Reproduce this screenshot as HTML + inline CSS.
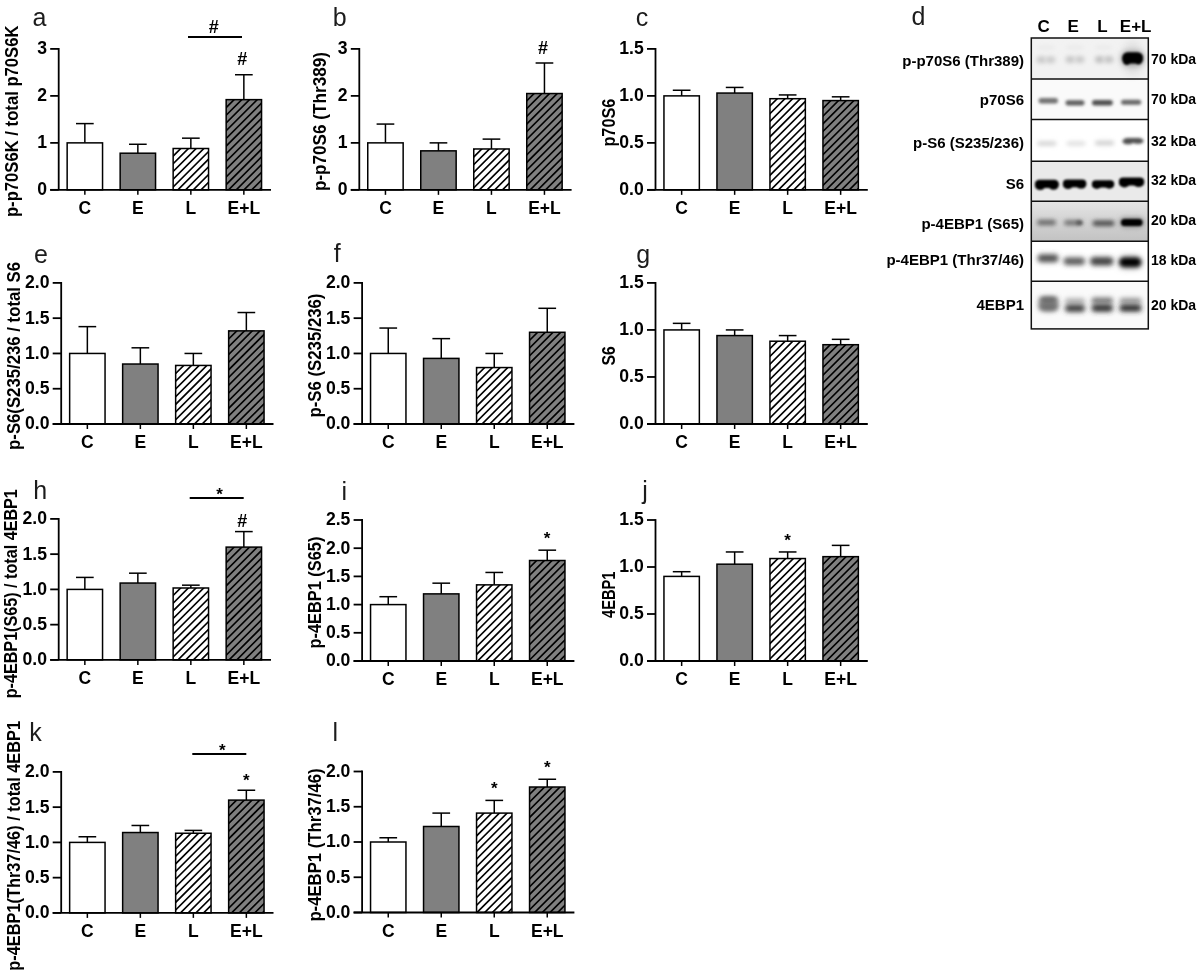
<!DOCTYPE html>
<html><head><meta charset="utf-8"><style>
html,body{margin:0;padding:0;background:#fff;}
body{width:1200px;height:974px;position:relative;overflow:hidden;font-family:"Liberation Sans",sans-serif;}
</style></head><body>
<svg width="1200" height="974" viewBox="0 0 1200 974" style="position:absolute;left:0;top:0;will-change:transform">
<defs>
<linearGradient id="g5" x1="0" y1="0" x2="0" y2="1"><stop offset="0" stop-color="#e4e4e4"/><stop offset="0.5" stop-color="#d3d3d3"/><stop offset="1" stop-color="#c2c2c2"/></linearGradient>
</defs>
<text x="32.50" y="26.10" font-family="Liberation Sans, sans-serif" font-size="25" fill="#1c1c1c">a</text>
<line x1="84.85" y1="142.87" x2="84.85" y2="123.60" stroke="#000" stroke-width="1.5"/>
<line x1="76.00" y1="123.60" x2="93.70" y2="123.60" stroke="#000" stroke-width="1.5"/>
<rect x="67.15" y="142.87" width="35.4" height="46.98" fill="#ffffff" stroke="#000" stroke-width="1.5"/>
<line x1="84.85" y1="189.85" x2="84.85" y2="194.85" stroke="#000" stroke-width="1.5"/>
<text x="84.85" y="214.15" font-family="Liberation Sans, sans-serif" font-size="17.5" font-weight="bold" text-anchor="middle">C</text>
<line x1="137.85" y1="153.20" x2="137.85" y2="144.28" stroke="#000" stroke-width="1.5"/>
<line x1="129.00" y1="144.28" x2="146.70" y2="144.28" stroke="#000" stroke-width="1.5"/>
<rect x="120.15" y="153.20" width="35.4" height="36.65" fill="#808080" stroke="#000" stroke-width="1.5"/>
<line x1="137.85" y1="189.85" x2="137.85" y2="194.85" stroke="#000" stroke-width="1.5"/>
<text x="137.85" y="214.15" font-family="Liberation Sans, sans-serif" font-size="17.5" font-weight="bold" text-anchor="middle">E</text>
<line x1="190.85" y1="148.50" x2="190.85" y2="138.17" stroke="#000" stroke-width="1.5"/>
<line x1="182.00" y1="138.17" x2="199.70" y2="138.17" stroke="#000" stroke-width="1.5"/>
<clipPath id="cp1"><rect x="173.15" y="148.50" width="35.4" height="41.35"/></clipPath>
<rect x="173.15" y="148.50" width="35.4" height="41.35" fill="#fff"/>
<path clip-path="url(#cp1)" d="M171.15,142.70L210.55,103.30M171.15,150.40L210.55,111.00M171.15,158.10L210.55,118.70M171.15,165.80L210.55,126.40M171.15,173.50L210.55,134.10M171.15,181.20L210.55,141.80M171.15,188.90L210.55,149.50M171.15,196.60L210.55,157.20M171.15,204.30L210.55,164.90M171.15,212.00L210.55,172.60M171.15,219.70L210.55,180.30M171.15,227.40L210.55,188.00M171.15,235.10L210.55,195.70" stroke="#000" stroke-width="1.65" fill="none"/>
<rect x="173.15" y="148.50" width="35.4" height="41.35" fill="none" stroke="#000" stroke-width="1.5"/>
<line x1="190.85" y1="189.85" x2="190.85" y2="194.85" stroke="#000" stroke-width="1.5"/>
<text x="190.85" y="214.15" font-family="Liberation Sans, sans-serif" font-size="17.5" font-weight="bold" text-anchor="middle">L</text>
<line x1="243.85" y1="99.64" x2="243.85" y2="74.74" stroke="#000" stroke-width="1.5"/>
<line x1="235.00" y1="74.74" x2="252.70" y2="74.74" stroke="#000" stroke-width="1.5"/>
<clipPath id="cp2"><rect x="226.15" y="99.64" width="35.4" height="90.21"/></clipPath>
<rect x="226.15" y="99.64" width="35.4" height="90.21" fill="#808080"/>
<path clip-path="url(#cp2)" d="M224.15,86.50L263.55,47.10M224.15,94.20L263.55,54.80M224.15,101.90L263.55,62.50M224.15,109.60L263.55,70.20M224.15,117.30L263.55,77.90M224.15,125.00L263.55,85.60M224.15,132.70L263.55,93.30M224.15,140.40L263.55,101.00M224.15,148.10L263.55,108.70M224.15,155.80L263.55,116.40M224.15,163.50L263.55,124.10M224.15,171.20L263.55,131.80M224.15,178.90L263.55,139.50M224.15,186.60L263.55,147.20M224.15,194.30L263.55,154.90M224.15,202.00L263.55,162.60M224.15,209.70L263.55,170.30M224.15,217.40L263.55,178.00M224.15,225.10L263.55,185.70M224.15,232.80L263.55,193.40M224.15,240.50L263.55,201.10" stroke="#000" stroke-width="1.65" fill="none"/>
<rect x="226.15" y="99.64" width="35.4" height="90.21" fill="none" stroke="#000" stroke-width="1.5"/>
<line x1="243.85" y1="189.85" x2="243.85" y2="194.85" stroke="#000" stroke-width="1.5"/>
<text x="243.85" y="214.15" font-family="Liberation Sans, sans-serif" font-size="17.5" font-weight="bold" text-anchor="middle">E+L</text>
<line x1="58.70" y1="48.00" x2="58.70" y2="189.85" stroke="#000" stroke-width="1.8"/>
<line x1="50.20" y1="189.85" x2="271.00" y2="189.85" stroke="#000" stroke-width="1.8"/>
<line x1="50.20" y1="189.85" x2="58.70" y2="189.85" stroke="#000" stroke-width="1.8"/>
<text x="47.00" y="195.25" font-family="Liberation Sans, sans-serif" font-size="17.6" font-weight="bold" text-anchor="end">0</text>
<line x1="50.20" y1="142.87" x2="58.70" y2="142.87" stroke="#000" stroke-width="1.8"/>
<text x="47.00" y="148.27" font-family="Liberation Sans, sans-serif" font-size="17.6" font-weight="bold" text-anchor="end">1</text>
<line x1="50.20" y1="95.88" x2="58.70" y2="95.88" stroke="#000" stroke-width="1.8"/>
<text x="47.00" y="101.28" font-family="Liberation Sans, sans-serif" font-size="17.6" font-weight="bold" text-anchor="end">2</text>
<line x1="50.20" y1="48.90" x2="58.70" y2="48.90" stroke="#000" stroke-width="1.8"/>
<text x="47.00" y="54.30" font-family="Liberation Sans, sans-serif" font-size="17.6" font-weight="bold" text-anchor="end">3</text>
<text transform="translate(17.50,217.09) rotate(-90)" font-family="Liberation Sans, sans-serif" font-size="17.8" font-weight="bold" textLength="191.59" lengthAdjust="spacingAndGlyphs">p-p70S6K / total p70S6K</text>
<line x1="188" y1="37" x2="242" y2="37" stroke="#000" stroke-width="1.8"/>
<text x="213.85" y="32.55" font-family="Liberation Sans, sans-serif" font-size="18" font-weight="bold" text-anchor="middle">#</text>
<text x="242.30" y="65.20" font-family="Liberation Sans, sans-serif" font-size="18" font-weight="bold" text-anchor="middle">#</text>
<text x="332.85" y="25.75" font-family="Liberation Sans, sans-serif" font-size="25" fill="#1c1c1c">b</text>
<line x1="385.45" y1="142.87" x2="385.45" y2="124.07" stroke="#000" stroke-width="1.5"/>
<line x1="376.60" y1="124.07" x2="394.30" y2="124.07" stroke="#000" stroke-width="1.5"/>
<rect x="367.75" y="142.87" width="35.4" height="46.98" fill="#ffffff" stroke="#000" stroke-width="1.5"/>
<line x1="385.45" y1="189.85" x2="385.45" y2="194.85" stroke="#000" stroke-width="1.5"/>
<text x="385.45" y="214.15" font-family="Liberation Sans, sans-serif" font-size="17.5" font-weight="bold" text-anchor="middle">C</text>
<line x1="438.45" y1="150.85" x2="438.45" y2="142.87" stroke="#000" stroke-width="1.5"/>
<line x1="429.60" y1="142.87" x2="447.30" y2="142.87" stroke="#000" stroke-width="1.5"/>
<rect x="420.75" y="150.85" width="35.4" height="39.00" fill="#808080" stroke="#000" stroke-width="1.5"/>
<line x1="438.45" y1="189.85" x2="438.45" y2="194.85" stroke="#000" stroke-width="1.5"/>
<text x="438.45" y="214.15" font-family="Liberation Sans, sans-serif" font-size="17.5" font-weight="bold" text-anchor="middle">E</text>
<line x1="491.45" y1="148.97" x2="491.45" y2="139.11" stroke="#000" stroke-width="1.5"/>
<line x1="482.60" y1="139.11" x2="500.30" y2="139.11" stroke="#000" stroke-width="1.5"/>
<clipPath id="cp3"><rect x="473.75" y="148.97" width="35.4" height="40.88"/></clipPath>
<rect x="473.75" y="148.97" width="35.4" height="40.88" fill="#fff"/>
<path clip-path="url(#cp3)" d="M471.75,135.90L511.15,96.50M471.75,143.60L511.15,104.20M471.75,151.30L511.15,111.90M471.75,159.00L511.15,119.60M471.75,166.70L511.15,127.30M471.75,174.40L511.15,135.00M471.75,182.10L511.15,142.70M471.75,189.80L511.15,150.40M471.75,197.50L511.15,158.10M471.75,205.20L511.15,165.80M471.75,212.90L511.15,173.50M471.75,220.60L511.15,181.20M471.75,228.30L511.15,188.90M471.75,236.00L511.15,196.60" stroke="#000" stroke-width="1.65" fill="none"/>
<rect x="473.75" y="148.97" width="35.4" height="40.88" fill="none" stroke="#000" stroke-width="1.5"/>
<line x1="491.45" y1="189.85" x2="491.45" y2="194.85" stroke="#000" stroke-width="1.5"/>
<text x="491.45" y="214.15" font-family="Liberation Sans, sans-serif" font-size="17.5" font-weight="bold" text-anchor="middle">L</text>
<line x1="544.45" y1="93.53" x2="544.45" y2="63.00" stroke="#000" stroke-width="1.5"/>
<line x1="535.60" y1="63.00" x2="553.30" y2="63.00" stroke="#000" stroke-width="1.5"/>
<clipPath id="cp4"><rect x="526.75" y="93.53" width="35.4" height="96.32"/></clipPath>
<rect x="526.75" y="93.53" width="35.4" height="96.32" fill="#808080"/>
<path clip-path="url(#cp4)" d="M524.75,87.50L564.15,48.10M524.75,95.20L564.15,55.80M524.75,102.90L564.15,63.50M524.75,110.60L564.15,71.20M524.75,118.30L564.15,78.90M524.75,126.00L564.15,86.60M524.75,133.70L564.15,94.30M524.75,141.40L564.15,102.00M524.75,149.10L564.15,109.70M524.75,156.80L564.15,117.40M524.75,164.50L564.15,125.10M524.75,172.20L564.15,132.80M524.75,179.90L564.15,140.50M524.75,187.60L564.15,148.20M524.75,195.30L564.15,155.90M524.75,203.00L564.15,163.60M524.75,210.70L564.15,171.30M524.75,218.40L564.15,179.00M524.75,226.10L564.15,186.70M524.75,233.80L564.15,194.40M524.75,241.50L564.15,202.10" stroke="#000" stroke-width="1.65" fill="none"/>
<rect x="526.75" y="93.53" width="35.4" height="96.32" fill="none" stroke="#000" stroke-width="1.5"/>
<line x1="544.45" y1="189.85" x2="544.45" y2="194.85" stroke="#000" stroke-width="1.5"/>
<text x="544.45" y="214.15" font-family="Liberation Sans, sans-serif" font-size="17.5" font-weight="bold" text-anchor="middle">E+L</text>
<line x1="359.30" y1="48.00" x2="359.30" y2="189.85" stroke="#000" stroke-width="1.8"/>
<line x1="350.80" y1="189.85" x2="571.60" y2="189.85" stroke="#000" stroke-width="1.8"/>
<line x1="350.80" y1="189.85" x2="359.30" y2="189.85" stroke="#000" stroke-width="1.8"/>
<text x="347.60" y="195.25" font-family="Liberation Sans, sans-serif" font-size="17.6" font-weight="bold" text-anchor="end">0</text>
<line x1="350.80" y1="142.87" x2="359.30" y2="142.87" stroke="#000" stroke-width="1.8"/>
<text x="347.60" y="148.27" font-family="Liberation Sans, sans-serif" font-size="17.6" font-weight="bold" text-anchor="end">1</text>
<line x1="350.80" y1="95.88" x2="359.30" y2="95.88" stroke="#000" stroke-width="1.8"/>
<text x="347.60" y="101.28" font-family="Liberation Sans, sans-serif" font-size="17.6" font-weight="bold" text-anchor="end">2</text>
<line x1="350.80" y1="48.90" x2="359.30" y2="48.90" stroke="#000" stroke-width="1.8"/>
<text x="347.60" y="54.30" font-family="Liberation Sans, sans-serif" font-size="17.6" font-weight="bold" text-anchor="end">3</text>
<text transform="translate(325.80,191.08) rotate(-90)" font-family="Liberation Sans, sans-serif" font-size="17.8" font-weight="bold" textLength="139.01" lengthAdjust="spacingAndGlyphs">p-p70S6 (Thr389)</text>
<text x="543.10" y="54.30" font-family="Liberation Sans, sans-serif" font-size="18" font-weight="bold" text-anchor="middle">#</text>
<text x="635.70" y="25.60" font-family="Liberation Sans, sans-serif" font-size="25" fill="#1c1c1c">c</text>
<line x1="681.65" y1="95.88" x2="681.65" y2="90.25" stroke="#000" stroke-width="1.5"/>
<line x1="672.80" y1="90.25" x2="690.50" y2="90.25" stroke="#000" stroke-width="1.5"/>
<rect x="663.95" y="95.88" width="35.4" height="93.97" fill="#ffffff" stroke="#000" stroke-width="1.5"/>
<line x1="681.65" y1="189.85" x2="681.65" y2="194.85" stroke="#000" stroke-width="1.5"/>
<text x="681.65" y="214.15" font-family="Liberation Sans, sans-serif" font-size="17.5" font-weight="bold" text-anchor="middle">C</text>
<line x1="734.65" y1="93.06" x2="734.65" y2="87.43" stroke="#000" stroke-width="1.5"/>
<line x1="725.80" y1="87.43" x2="743.50" y2="87.43" stroke="#000" stroke-width="1.5"/>
<rect x="716.95" y="93.06" width="35.4" height="96.79" fill="#808080" stroke="#000" stroke-width="1.5"/>
<line x1="734.65" y1="189.85" x2="734.65" y2="194.85" stroke="#000" stroke-width="1.5"/>
<text x="734.65" y="214.15" font-family="Liberation Sans, sans-serif" font-size="17.5" font-weight="bold" text-anchor="middle">E</text>
<line x1="787.65" y1="98.70" x2="787.65" y2="94.94" stroke="#000" stroke-width="1.5"/>
<line x1="778.80" y1="94.94" x2="796.50" y2="94.94" stroke="#000" stroke-width="1.5"/>
<clipPath id="cp5"><rect x="769.95" y="98.70" width="35.4" height="91.15"/></clipPath>
<rect x="769.95" y="98.70" width="35.4" height="91.15" fill="#fff"/>
<path clip-path="url(#cp5)" d="M767.95,92.60L807.35,53.20M767.95,100.30L807.35,60.90M767.95,108.00L807.35,68.60M767.95,115.70L807.35,76.30M767.95,123.40L807.35,84.00M767.95,131.10L807.35,91.70M767.95,138.80L807.35,99.40M767.95,146.50L807.35,107.10M767.95,154.20L807.35,114.80M767.95,161.90L807.35,122.50M767.95,169.60L807.35,130.20M767.95,177.30L807.35,137.90M767.95,185.00L807.35,145.60M767.95,192.70L807.35,153.30M767.95,200.40L807.35,161.00M767.95,208.10L807.35,168.70M767.95,215.80L807.35,176.40M767.95,223.50L807.35,184.10M767.95,231.20L807.35,191.80M767.95,238.90L807.35,199.50" stroke="#000" stroke-width="1.65" fill="none"/>
<rect x="769.95" y="98.70" width="35.4" height="91.15" fill="none" stroke="#000" stroke-width="1.5"/>
<line x1="787.65" y1="189.85" x2="787.65" y2="194.85" stroke="#000" stroke-width="1.5"/>
<text x="787.65" y="214.15" font-family="Liberation Sans, sans-serif" font-size="17.5" font-weight="bold" text-anchor="middle">L</text>
<line x1="840.65" y1="100.58" x2="840.65" y2="96.82" stroke="#000" stroke-width="1.5"/>
<line x1="831.80" y1="96.82" x2="849.50" y2="96.82" stroke="#000" stroke-width="1.5"/>
<clipPath id="cp6"><rect x="822.95" y="100.58" width="35.4" height="89.27"/></clipPath>
<rect x="822.95" y="100.58" width="35.4" height="89.27" fill="#808080"/>
<path clip-path="url(#cp6)" d="M820.95,87.30L860.35,47.90M820.95,95.00L860.35,55.60M820.95,102.70L860.35,63.30M820.95,110.40L860.35,71.00M820.95,118.10L860.35,78.70M820.95,125.80L860.35,86.40M820.95,133.50L860.35,94.10M820.95,141.20L860.35,101.80M820.95,148.90L860.35,109.50M820.95,156.60L860.35,117.20M820.95,164.30L860.35,124.90M820.95,172.00L860.35,132.60M820.95,179.70L860.35,140.30M820.95,187.40L860.35,148.00M820.95,195.10L860.35,155.70M820.95,202.80L860.35,163.40M820.95,210.50L860.35,171.10M820.95,218.20L860.35,178.80M820.95,225.90L860.35,186.50M820.95,233.60L860.35,194.20M820.95,241.30L860.35,201.90" stroke="#000" stroke-width="1.65" fill="none"/>
<rect x="822.95" y="100.58" width="35.4" height="89.27" fill="none" stroke="#000" stroke-width="1.5"/>
<line x1="840.65" y1="189.85" x2="840.65" y2="194.85" stroke="#000" stroke-width="1.5"/>
<text x="840.65" y="214.15" font-family="Liberation Sans, sans-serif" font-size="17.5" font-weight="bold" text-anchor="middle">E+L</text>
<line x1="655.50" y1="48.00" x2="655.50" y2="189.85" stroke="#000" stroke-width="1.8"/>
<line x1="647.00" y1="189.85" x2="867.80" y2="189.85" stroke="#000" stroke-width="1.8"/>
<line x1="647.00" y1="189.85" x2="655.50" y2="189.85" stroke="#000" stroke-width="1.8"/>
<text x="643.80" y="195.25" font-family="Liberation Sans, sans-serif" font-size="17.6" font-weight="bold" text-anchor="end">0.0</text>
<line x1="647.00" y1="142.87" x2="655.50" y2="142.87" stroke="#000" stroke-width="1.8"/>
<text x="643.80" y="148.27" font-family="Liberation Sans, sans-serif" font-size="17.6" font-weight="bold" text-anchor="end">0.5</text>
<line x1="647.00" y1="95.88" x2="655.50" y2="95.88" stroke="#000" stroke-width="1.8"/>
<text x="643.80" y="101.28" font-family="Liberation Sans, sans-serif" font-size="17.6" font-weight="bold" text-anchor="end">1.0</text>
<line x1="647.00" y1="48.90" x2="655.50" y2="48.90" stroke="#000" stroke-width="1.8"/>
<text x="643.80" y="54.30" font-family="Liberation Sans, sans-serif" font-size="17.6" font-weight="bold" text-anchor="end">1.5</text>
<text transform="translate(614.70,146.56) rotate(-90)" font-family="Liberation Sans, sans-serif" font-size="17.8" font-weight="bold" textLength="47.86" lengthAdjust="spacingAndGlyphs">p70S6</text>
<text x="34.00" y="262.62" font-family="Liberation Sans, sans-serif" font-size="25" fill="#1c1c1c">e</text>
<line x1="87.35" y1="353.45" x2="87.35" y2="326.64" stroke="#000" stroke-width="1.5"/>
<line x1="78.50" y1="326.64" x2="96.20" y2="326.64" stroke="#000" stroke-width="1.5"/>
<rect x="69.65" y="353.45" width="35.4" height="70.55" fill="#ffffff" stroke="#000" stroke-width="1.5"/>
<line x1="87.35" y1="424.00" x2="87.35" y2="429.00" stroke="#000" stroke-width="1.5"/>
<text x="87.35" y="448.30" font-family="Liberation Sans, sans-serif" font-size="17.5" font-weight="bold" text-anchor="middle">C</text>
<line x1="140.35" y1="364.03" x2="140.35" y2="347.81" stroke="#000" stroke-width="1.5"/>
<line x1="131.50" y1="347.81" x2="149.20" y2="347.81" stroke="#000" stroke-width="1.5"/>
<rect x="122.65" y="364.03" width="35.4" height="59.97" fill="#808080" stroke="#000" stroke-width="1.5"/>
<line x1="140.35" y1="424.00" x2="140.35" y2="429.00" stroke="#000" stroke-width="1.5"/>
<text x="140.35" y="448.30" font-family="Liberation Sans, sans-serif" font-size="17.5" font-weight="bold" text-anchor="middle">E</text>
<line x1="193.35" y1="365.44" x2="193.35" y2="353.45" stroke="#000" stroke-width="1.5"/>
<line x1="184.50" y1="353.45" x2="202.20" y2="353.45" stroke="#000" stroke-width="1.5"/>
<clipPath id="cp7"><rect x="175.65" y="365.44" width="35.4" height="58.56"/></clipPath>
<rect x="175.65" y="365.44" width="35.4" height="58.56" fill="#fff"/>
<path clip-path="url(#cp7)" d="M173.65,352.45L213.05,313.05M173.65,360.15L213.05,320.75M173.65,367.85L213.05,328.45M173.65,375.55L213.05,336.15M173.65,383.25L213.05,343.85M173.65,390.95L213.05,351.55M173.65,398.65L213.05,359.25M173.65,406.35L213.05,366.95M173.65,414.05L213.05,374.65M173.65,421.75L213.05,382.35M173.65,429.45L213.05,390.05M173.65,437.15L213.05,397.75M173.65,444.85L213.05,405.45M173.65,452.55L213.05,413.15M173.65,460.25L213.05,420.85M173.65,467.95L213.05,428.55M173.65,475.65L213.05,436.25" stroke="#000" stroke-width="1.65" fill="none"/>
<rect x="175.65" y="365.44" width="35.4" height="58.56" fill="none" stroke="#000" stroke-width="1.5"/>
<line x1="193.35" y1="424.00" x2="193.35" y2="429.00" stroke="#000" stroke-width="1.5"/>
<text x="193.35" y="448.30" font-family="Liberation Sans, sans-serif" font-size="17.5" font-weight="bold" text-anchor="middle">L</text>
<line x1="246.35" y1="330.87" x2="246.35" y2="312.53" stroke="#000" stroke-width="1.5"/>
<line x1="237.50" y1="312.53" x2="255.20" y2="312.53" stroke="#000" stroke-width="1.5"/>
<clipPath id="cp8"><rect x="228.65" y="330.87" width="35.4" height="93.13"/></clipPath>
<rect x="228.65" y="330.87" width="35.4" height="93.13" fill="#808080"/>
<path clip-path="url(#cp8)" d="M226.65,317.95L266.05,278.55M226.65,325.65L266.05,286.25M226.65,333.35L266.05,293.95M226.65,341.05L266.05,301.65M226.65,348.75L266.05,309.35M226.65,356.45L266.05,317.05M226.65,364.15L266.05,324.75M226.65,371.85L266.05,332.45M226.65,379.55L266.05,340.15M226.65,387.25L266.05,347.85M226.65,394.95L266.05,355.55M226.65,402.65L266.05,363.25M226.65,410.35L266.05,370.95M226.65,418.05L266.05,378.65M226.65,425.75L266.05,386.35M226.65,433.45L266.05,394.05M226.65,441.15L266.05,401.75M226.65,448.85L266.05,409.45M226.65,456.55L266.05,417.15M226.65,464.25L266.05,424.85M226.65,471.95L266.05,432.55" stroke="#000" stroke-width="1.65" fill="none"/>
<rect x="228.65" y="330.87" width="35.4" height="93.13" fill="none" stroke="#000" stroke-width="1.5"/>
<line x1="246.35" y1="424.00" x2="246.35" y2="429.00" stroke="#000" stroke-width="1.5"/>
<text x="246.35" y="448.30" font-family="Liberation Sans, sans-serif" font-size="17.5" font-weight="bold" text-anchor="middle">E+L</text>
<line x1="61.20" y1="282.00" x2="61.20" y2="424.00" stroke="#000" stroke-width="1.8"/>
<line x1="52.70" y1="424.00" x2="273.50" y2="424.00" stroke="#000" stroke-width="1.8"/>
<line x1="52.70" y1="424.00" x2="61.20" y2="424.00" stroke="#000" stroke-width="1.8"/>
<text x="49.50" y="429.40" font-family="Liberation Sans, sans-serif" font-size="17.6" font-weight="bold" text-anchor="end">0.0</text>
<line x1="52.70" y1="388.73" x2="61.20" y2="388.73" stroke="#000" stroke-width="1.8"/>
<text x="49.50" y="394.12" font-family="Liberation Sans, sans-serif" font-size="17.6" font-weight="bold" text-anchor="end">0.5</text>
<line x1="52.70" y1="353.45" x2="61.20" y2="353.45" stroke="#000" stroke-width="1.8"/>
<text x="49.50" y="358.85" font-family="Liberation Sans, sans-serif" font-size="17.6" font-weight="bold" text-anchor="end">1.0</text>
<line x1="52.70" y1="318.17" x2="61.20" y2="318.17" stroke="#000" stroke-width="1.8"/>
<text x="49.50" y="323.57" font-family="Liberation Sans, sans-serif" font-size="17.6" font-weight="bold" text-anchor="end">1.5</text>
<line x1="52.70" y1="282.90" x2="61.20" y2="282.90" stroke="#000" stroke-width="1.8"/>
<text x="49.50" y="288.30" font-family="Liberation Sans, sans-serif" font-size="17.6" font-weight="bold" text-anchor="end">2.0</text>
<text transform="translate(20.00,449.92) rotate(-90)" font-family="Liberation Sans, sans-serif" font-size="17.8" font-weight="bold" textLength="188.02" lengthAdjust="spacingAndGlyphs">p-S6(S235/236 / total S6</text>
<text x="333.75" y="262.25" font-family="Liberation Sans, sans-serif" font-size="25" fill="#1c1c1c">f</text>
<line x1="388.25" y1="353.45" x2="388.25" y2="328.05" stroke="#000" stroke-width="1.5"/>
<line x1="379.40" y1="328.05" x2="397.10" y2="328.05" stroke="#000" stroke-width="1.5"/>
<rect x="370.55" y="353.45" width="35.4" height="70.55" fill="#ffffff" stroke="#000" stroke-width="1.5"/>
<line x1="388.25" y1="424.00" x2="388.25" y2="429.00" stroke="#000" stroke-width="1.5"/>
<text x="388.25" y="448.30" font-family="Liberation Sans, sans-serif" font-size="17.5" font-weight="bold" text-anchor="middle">C</text>
<line x1="441.25" y1="358.39" x2="441.25" y2="338.63" stroke="#000" stroke-width="1.5"/>
<line x1="432.40" y1="338.63" x2="450.10" y2="338.63" stroke="#000" stroke-width="1.5"/>
<rect x="423.55" y="358.39" width="35.4" height="65.61" fill="#808080" stroke="#000" stroke-width="1.5"/>
<line x1="441.25" y1="424.00" x2="441.25" y2="429.00" stroke="#000" stroke-width="1.5"/>
<text x="441.25" y="448.30" font-family="Liberation Sans, sans-serif" font-size="17.5" font-weight="bold" text-anchor="middle">E</text>
<line x1="494.25" y1="367.56" x2="494.25" y2="353.45" stroke="#000" stroke-width="1.5"/>
<line x1="485.40" y1="353.45" x2="503.10" y2="353.45" stroke="#000" stroke-width="1.5"/>
<clipPath id="cp9"><rect x="476.55" y="367.56" width="35.4" height="56.44"/></clipPath>
<rect x="476.55" y="367.56" width="35.4" height="56.44" fill="#fff"/>
<path clip-path="url(#cp9)" d="M474.55,354.55L513.95,315.15M474.55,362.25L513.95,322.85M474.55,369.95L513.95,330.55M474.55,377.65L513.95,338.25M474.55,385.35L513.95,345.95M474.55,393.05L513.95,353.65M474.55,400.75L513.95,361.35M474.55,408.45L513.95,369.05M474.55,416.15L513.95,376.75M474.55,423.85L513.95,384.45M474.55,431.55L513.95,392.15M474.55,439.25L513.95,399.85M474.55,446.95L513.95,407.55M474.55,454.65L513.95,415.25M474.55,462.35L513.95,422.95M474.55,470.05L513.95,430.65" stroke="#000" stroke-width="1.65" fill="none"/>
<rect x="476.55" y="367.56" width="35.4" height="56.44" fill="none" stroke="#000" stroke-width="1.5"/>
<line x1="494.25" y1="424.00" x2="494.25" y2="429.00" stroke="#000" stroke-width="1.5"/>
<text x="494.25" y="448.30" font-family="Liberation Sans, sans-serif" font-size="17.5" font-weight="bold" text-anchor="middle">L</text>
<line x1="547.25" y1="332.28" x2="547.25" y2="308.30" stroke="#000" stroke-width="1.5"/>
<line x1="538.40" y1="308.30" x2="556.10" y2="308.30" stroke="#000" stroke-width="1.5"/>
<clipPath id="cp10"><rect x="529.55" y="332.28" width="35.4" height="91.72"/></clipPath>
<rect x="529.55" y="332.28" width="35.4" height="91.72" fill="#808080"/>
<path clip-path="url(#cp10)" d="M527.55,319.25L566.95,279.85M527.55,326.95L566.95,287.55M527.55,334.65L566.95,295.25M527.55,342.35L566.95,302.95M527.55,350.05L566.95,310.65M527.55,357.75L566.95,318.35M527.55,365.45L566.95,326.05M527.55,373.15L566.95,333.75M527.55,380.85L566.95,341.45M527.55,388.55L566.95,349.15M527.55,396.25L566.95,356.85M527.55,403.95L566.95,364.55M527.55,411.65L566.95,372.25M527.55,419.35L566.95,379.95M527.55,427.05L566.95,387.65M527.55,434.75L566.95,395.35M527.55,442.45L566.95,403.05M527.55,450.15L566.95,410.75M527.55,457.85L566.95,418.45M527.55,465.55L566.95,426.15M527.55,473.25L566.95,433.85" stroke="#000" stroke-width="1.65" fill="none"/>
<rect x="529.55" y="332.28" width="35.4" height="91.72" fill="none" stroke="#000" stroke-width="1.5"/>
<line x1="547.25" y1="424.00" x2="547.25" y2="429.00" stroke="#000" stroke-width="1.5"/>
<text x="547.25" y="448.30" font-family="Liberation Sans, sans-serif" font-size="17.5" font-weight="bold" text-anchor="middle">E+L</text>
<line x1="362.10" y1="282.00" x2="362.10" y2="424.00" stroke="#000" stroke-width="1.8"/>
<line x1="353.60" y1="424.00" x2="574.40" y2="424.00" stroke="#000" stroke-width="1.8"/>
<line x1="353.60" y1="424.00" x2="362.10" y2="424.00" stroke="#000" stroke-width="1.8"/>
<text x="350.40" y="429.40" font-family="Liberation Sans, sans-serif" font-size="17.6" font-weight="bold" text-anchor="end">0.0</text>
<line x1="353.60" y1="388.73" x2="362.10" y2="388.73" stroke="#000" stroke-width="1.8"/>
<text x="350.40" y="394.12" font-family="Liberation Sans, sans-serif" font-size="17.6" font-weight="bold" text-anchor="end">0.5</text>
<line x1="353.60" y1="353.45" x2="362.10" y2="353.45" stroke="#000" stroke-width="1.8"/>
<text x="350.40" y="358.85" font-family="Liberation Sans, sans-serif" font-size="17.6" font-weight="bold" text-anchor="end">1.0</text>
<line x1="353.60" y1="318.17" x2="362.10" y2="318.17" stroke="#000" stroke-width="1.8"/>
<text x="350.40" y="323.57" font-family="Liberation Sans, sans-serif" font-size="17.6" font-weight="bold" text-anchor="end">1.5</text>
<line x1="353.60" y1="282.90" x2="362.10" y2="282.90" stroke="#000" stroke-width="1.8"/>
<text x="350.40" y="288.30" font-family="Liberation Sans, sans-serif" font-size="17.6" font-weight="bold" text-anchor="end">2.0</text>
<text transform="translate(320.80,417.49) rotate(-90)" font-family="Liberation Sans, sans-serif" font-size="17.8" font-weight="bold" textLength="123.93" lengthAdjust="spacingAndGlyphs">p-S6 (S235/236)</text>
<text x="636.35" y="262.62" font-family="Liberation Sans, sans-serif" font-size="25" fill="#1c1c1c">g</text>
<line x1="681.65" y1="329.93" x2="681.65" y2="323.35" stroke="#000" stroke-width="1.5"/>
<line x1="672.80" y1="323.35" x2="690.50" y2="323.35" stroke="#000" stroke-width="1.5"/>
<rect x="663.95" y="329.93" width="35.4" height="94.07" fill="#ffffff" stroke="#000" stroke-width="1.5"/>
<line x1="681.65" y1="424.00" x2="681.65" y2="429.00" stroke="#000" stroke-width="1.5"/>
<text x="681.65" y="448.30" font-family="Liberation Sans, sans-serif" font-size="17.5" font-weight="bold" text-anchor="middle">C</text>
<line x1="734.65" y1="335.58" x2="734.65" y2="329.93" stroke="#000" stroke-width="1.5"/>
<line x1="725.80" y1="329.93" x2="743.50" y2="329.93" stroke="#000" stroke-width="1.5"/>
<rect x="716.95" y="335.58" width="35.4" height="88.42" fill="#808080" stroke="#000" stroke-width="1.5"/>
<line x1="734.65" y1="424.00" x2="734.65" y2="429.00" stroke="#000" stroke-width="1.5"/>
<text x="734.65" y="448.30" font-family="Liberation Sans, sans-serif" font-size="17.5" font-weight="bold" text-anchor="middle">E</text>
<line x1="787.65" y1="341.22" x2="787.65" y2="335.58" stroke="#000" stroke-width="1.5"/>
<line x1="778.80" y1="335.58" x2="796.50" y2="335.58" stroke="#000" stroke-width="1.5"/>
<clipPath id="cp11"><rect x="769.95" y="341.22" width="35.4" height="82.78"/></clipPath>
<rect x="769.95" y="341.22" width="35.4" height="82.78" fill="#fff"/>
<path clip-path="url(#cp11)" d="M767.95,335.30L807.35,295.90M767.95,343.00L807.35,303.60M767.95,350.70L807.35,311.30M767.95,358.40L807.35,319.00M767.95,366.10L807.35,326.70M767.95,373.80L807.35,334.40M767.95,381.50L807.35,342.10M767.95,389.20L807.35,349.80M767.95,396.90L807.35,357.50M767.95,404.60L807.35,365.20M767.95,412.30L807.35,372.90M767.95,420.00L807.35,380.60M767.95,427.70L807.35,388.30M767.95,435.40L807.35,396.00M767.95,443.10L807.35,403.70M767.95,450.80L807.35,411.40M767.95,458.50L807.35,419.10M767.95,466.20L807.35,426.80M767.95,473.90L807.35,434.50" stroke="#000" stroke-width="1.65" fill="none"/>
<rect x="769.95" y="341.22" width="35.4" height="82.78" fill="none" stroke="#000" stroke-width="1.5"/>
<line x1="787.65" y1="424.00" x2="787.65" y2="429.00" stroke="#000" stroke-width="1.5"/>
<text x="787.65" y="448.30" font-family="Liberation Sans, sans-serif" font-size="17.5" font-weight="bold" text-anchor="middle">L</text>
<line x1="840.65" y1="344.70" x2="840.65" y2="339.34" stroke="#000" stroke-width="1.5"/>
<line x1="831.80" y1="339.34" x2="849.50" y2="339.34" stroke="#000" stroke-width="1.5"/>
<clipPath id="cp12"><rect x="822.95" y="344.70" width="35.4" height="79.30"/></clipPath>
<rect x="822.95" y="344.70" width="35.4" height="79.30" fill="#808080"/>
<path clip-path="url(#cp12)" d="M820.95,338.65L860.35,299.25M820.95,346.35L860.35,306.95M820.95,354.05L860.35,314.65M820.95,361.75L860.35,322.35M820.95,369.45L860.35,330.05M820.95,377.15L860.35,337.75M820.95,384.85L860.35,345.45M820.95,392.55L860.35,353.15M820.95,400.25L860.35,360.85M820.95,407.95L860.35,368.55M820.95,415.65L860.35,376.25M820.95,423.35L860.35,383.95M820.95,431.05L860.35,391.65M820.95,438.75L860.35,399.35M820.95,446.45L860.35,407.05M820.95,454.15L860.35,414.75M820.95,461.85L860.35,422.45M820.95,469.55L860.35,430.15" stroke="#000" stroke-width="1.65" fill="none"/>
<rect x="822.95" y="344.70" width="35.4" height="79.30" fill="none" stroke="#000" stroke-width="1.5"/>
<line x1="840.65" y1="424.00" x2="840.65" y2="429.00" stroke="#000" stroke-width="1.5"/>
<text x="840.65" y="448.30" font-family="Liberation Sans, sans-serif" font-size="17.5" font-weight="bold" text-anchor="middle">E+L</text>
<line x1="655.50" y1="282.00" x2="655.50" y2="424.00" stroke="#000" stroke-width="1.8"/>
<line x1="647.00" y1="424.00" x2="867.80" y2="424.00" stroke="#000" stroke-width="1.8"/>
<line x1="647.00" y1="424.00" x2="655.50" y2="424.00" stroke="#000" stroke-width="1.8"/>
<text x="643.80" y="429.40" font-family="Liberation Sans, sans-serif" font-size="17.6" font-weight="bold" text-anchor="end">0.0</text>
<line x1="647.00" y1="376.97" x2="655.50" y2="376.97" stroke="#000" stroke-width="1.8"/>
<text x="643.80" y="382.37" font-family="Liberation Sans, sans-serif" font-size="17.6" font-weight="bold" text-anchor="end">0.5</text>
<line x1="647.00" y1="329.93" x2="655.50" y2="329.93" stroke="#000" stroke-width="1.8"/>
<text x="643.80" y="335.33" font-family="Liberation Sans, sans-serif" font-size="17.6" font-weight="bold" text-anchor="end">1.0</text>
<line x1="647.00" y1="282.90" x2="655.50" y2="282.90" stroke="#000" stroke-width="1.8"/>
<text x="643.80" y="288.30" font-family="Liberation Sans, sans-serif" font-size="17.6" font-weight="bold" text-anchor="end">1.5</text>
<text transform="translate(615.00,365.59) rotate(-90)" font-family="Liberation Sans, sans-serif" font-size="17.8" font-weight="bold" textLength="19.33" lengthAdjust="spacingAndGlyphs">S6</text>
<text x="33.30" y="498.85" font-family="Liberation Sans, sans-serif" font-size="25" fill="#1c1c1c">h</text>
<line x1="84.85" y1="589.40" x2="84.85" y2="577.41" stroke="#000" stroke-width="1.5"/>
<line x1="76.00" y1="577.41" x2="93.70" y2="577.41" stroke="#000" stroke-width="1.5"/>
<rect x="67.15" y="589.40" width="35.4" height="70.50" fill="#ffffff" stroke="#000" stroke-width="1.5"/>
<line x1="84.85" y1="659.90" x2="84.85" y2="664.90" stroke="#000" stroke-width="1.5"/>
<text x="84.85" y="684.20" font-family="Liberation Sans, sans-serif" font-size="17.5" font-weight="bold" text-anchor="middle">C</text>
<line x1="137.85" y1="583.05" x2="137.85" y2="573.18" stroke="#000" stroke-width="1.5"/>
<line x1="129.00" y1="573.18" x2="146.70" y2="573.18" stroke="#000" stroke-width="1.5"/>
<rect x="120.15" y="583.05" width="35.4" height="76.85" fill="#808080" stroke="#000" stroke-width="1.5"/>
<line x1="137.85" y1="659.90" x2="137.85" y2="664.90" stroke="#000" stroke-width="1.5"/>
<text x="137.85" y="684.20" font-family="Liberation Sans, sans-serif" font-size="17.5" font-weight="bold" text-anchor="middle">E</text>
<line x1="190.85" y1="587.99" x2="190.85" y2="585.17" stroke="#000" stroke-width="1.5"/>
<line x1="182.00" y1="585.17" x2="199.70" y2="585.17" stroke="#000" stroke-width="1.5"/>
<clipPath id="cp13"><rect x="173.15" y="587.99" width="35.4" height="71.91"/></clipPath>
<rect x="173.15" y="587.99" width="35.4" height="71.91" fill="#fff"/>
<path clip-path="url(#cp13)" d="M171.15,582.05L210.55,542.65M171.15,589.75L210.55,550.35M171.15,597.45L210.55,558.05M171.15,605.15L210.55,565.75M171.15,612.85L210.55,573.45M171.15,620.55L210.55,581.15M171.15,628.25L210.55,588.85M171.15,635.95L210.55,596.55M171.15,643.65L210.55,604.25M171.15,651.35L210.55,611.95M171.15,659.05L210.55,619.65M171.15,666.75L210.55,627.35M171.15,674.45L210.55,635.05M171.15,682.15L210.55,642.75M171.15,689.85L210.55,650.45M171.15,697.55L210.55,658.15M171.15,705.25L210.55,665.85" stroke="#000" stroke-width="1.65" fill="none"/>
<rect x="173.15" y="587.99" width="35.4" height="71.91" fill="none" stroke="#000" stroke-width="1.5"/>
<line x1="190.85" y1="659.90" x2="190.85" y2="664.90" stroke="#000" stroke-width="1.5"/>
<text x="190.85" y="684.20" font-family="Liberation Sans, sans-serif" font-size="17.5" font-weight="bold" text-anchor="middle">L</text>
<line x1="243.85" y1="547.10" x2="243.85" y2="531.59" stroke="#000" stroke-width="1.5"/>
<line x1="235.00" y1="531.59" x2="252.70" y2="531.59" stroke="#000" stroke-width="1.5"/>
<clipPath id="cp14"><rect x="226.15" y="547.10" width="35.4" height="112.80"/></clipPath>
<rect x="226.15" y="547.10" width="35.4" height="112.80" fill="#808080"/>
<path clip-path="url(#cp14)" d="M224.15,533.95L263.55,494.55M224.15,541.65L263.55,502.25M224.15,549.35L263.55,509.95M224.15,557.05L263.55,517.65M224.15,564.75L263.55,525.35M224.15,572.45L263.55,533.05M224.15,580.15L263.55,540.75M224.15,587.85L263.55,548.45M224.15,595.55L263.55,556.15M224.15,603.25L263.55,563.85M224.15,610.95L263.55,571.55M224.15,618.65L263.55,579.25M224.15,626.35L263.55,586.95M224.15,634.05L263.55,594.65M224.15,641.75L263.55,602.35M224.15,649.45L263.55,610.05M224.15,657.15L263.55,617.75M224.15,664.85L263.55,625.45M224.15,672.55L263.55,633.15M224.15,680.25L263.55,640.85M224.15,687.95L263.55,648.55M224.15,695.65L263.55,656.25M224.15,703.35L263.55,663.95M224.15,711.05L263.55,671.65" stroke="#000" stroke-width="1.65" fill="none"/>
<rect x="226.15" y="547.10" width="35.4" height="112.80" fill="none" stroke="#000" stroke-width="1.5"/>
<line x1="243.85" y1="659.90" x2="243.85" y2="664.90" stroke="#000" stroke-width="1.5"/>
<text x="243.85" y="684.20" font-family="Liberation Sans, sans-serif" font-size="17.5" font-weight="bold" text-anchor="middle">E+L</text>
<line x1="58.70" y1="518.00" x2="58.70" y2="659.90" stroke="#000" stroke-width="1.8"/>
<line x1="50.20" y1="659.90" x2="271.00" y2="659.90" stroke="#000" stroke-width="1.8"/>
<line x1="50.20" y1="659.90" x2="58.70" y2="659.90" stroke="#000" stroke-width="1.8"/>
<text x="47.00" y="665.30" font-family="Liberation Sans, sans-serif" font-size="17.6" font-weight="bold" text-anchor="end">0.0</text>
<line x1="50.20" y1="624.65" x2="58.70" y2="624.65" stroke="#000" stroke-width="1.8"/>
<text x="47.00" y="630.05" font-family="Liberation Sans, sans-serif" font-size="17.6" font-weight="bold" text-anchor="end">0.5</text>
<line x1="50.20" y1="589.40" x2="58.70" y2="589.40" stroke="#000" stroke-width="1.8"/>
<text x="47.00" y="594.80" font-family="Liberation Sans, sans-serif" font-size="17.6" font-weight="bold" text-anchor="end">1.0</text>
<line x1="50.20" y1="554.15" x2="58.70" y2="554.15" stroke="#000" stroke-width="1.8"/>
<text x="47.00" y="559.55" font-family="Liberation Sans, sans-serif" font-size="17.6" font-weight="bold" text-anchor="end">1.5</text>
<line x1="50.20" y1="518.90" x2="58.70" y2="518.90" stroke="#000" stroke-width="1.8"/>
<text x="47.00" y="524.30" font-family="Liberation Sans, sans-serif" font-size="17.6" font-weight="bold" text-anchor="end">2.0</text>
<text transform="translate(17.30,698.30) rotate(-90)" font-family="Liberation Sans, sans-serif" font-size="17.8" font-weight="bold" textLength="209.15" lengthAdjust="spacingAndGlyphs">p-4EBP1(S65) / total 4EBP1</text>
<line x1="189.7" y1="498" x2="243.7" y2="498" stroke="#000" stroke-width="1.8"/>
<text x="219.50" y="500.00" font-family="Liberation Sans, sans-serif" font-size="17" font-weight="bold" text-anchor="middle">*</text>
<text x="242.35" y="527.20" font-family="Liberation Sans, sans-serif" font-size="18" font-weight="bold" text-anchor="middle">#</text>
<text x="341.45" y="499.75" font-family="Liberation Sans, sans-serif" font-size="25" fill="#1c1c1c">i</text>
<line x1="388.25" y1="604.60" x2="388.25" y2="596.70" stroke="#000" stroke-width="1.5"/>
<line x1="379.40" y1="596.70" x2="397.10" y2="596.70" stroke="#000" stroke-width="1.5"/>
<rect x="370.55" y="604.60" width="35.4" height="56.40" fill="#ffffff" stroke="#000" stroke-width="1.5"/>
<line x1="388.25" y1="661.00" x2="388.25" y2="666.00" stroke="#000" stroke-width="1.5"/>
<text x="388.25" y="685.30" font-family="Liberation Sans, sans-serif" font-size="17.5" font-weight="bold" text-anchor="middle">C</text>
<line x1="441.25" y1="593.88" x2="441.25" y2="583.17" stroke="#000" stroke-width="1.5"/>
<line x1="432.40" y1="583.17" x2="450.10" y2="583.17" stroke="#000" stroke-width="1.5"/>
<rect x="423.55" y="593.88" width="35.4" height="67.12" fill="#808080" stroke="#000" stroke-width="1.5"/>
<line x1="441.25" y1="661.00" x2="441.25" y2="666.00" stroke="#000" stroke-width="1.5"/>
<text x="441.25" y="685.30" font-family="Liberation Sans, sans-serif" font-size="17.5" font-weight="bold" text-anchor="middle">E</text>
<line x1="494.25" y1="584.86" x2="494.25" y2="572.45" stroke="#000" stroke-width="1.5"/>
<line x1="485.40" y1="572.45" x2="503.10" y2="572.45" stroke="#000" stroke-width="1.5"/>
<clipPath id="cp15"><rect x="476.55" y="584.86" width="35.4" height="76.14"/></clipPath>
<rect x="476.55" y="584.86" width="35.4" height="76.14" fill="#fff"/>
<path clip-path="url(#cp15)" d="M474.55,571.75L513.95,532.35M474.55,579.45L513.95,540.05M474.55,587.15L513.95,547.75M474.55,594.85L513.95,555.45M474.55,602.55L513.95,563.15M474.55,610.25L513.95,570.85M474.55,617.95L513.95,578.55M474.55,625.65L513.95,586.25M474.55,633.35L513.95,593.95M474.55,641.05L513.95,601.65M474.55,648.75L513.95,609.35M474.55,656.45L513.95,617.05M474.55,664.15L513.95,624.75M474.55,671.85L513.95,632.45M474.55,679.55L513.95,640.15M474.55,687.25L513.95,647.85M474.55,694.95L513.95,655.55M474.55,702.65L513.95,663.25M474.55,710.35L513.95,670.95" stroke="#000" stroke-width="1.65" fill="none"/>
<rect x="476.55" y="584.86" width="35.4" height="76.14" fill="none" stroke="#000" stroke-width="1.5"/>
<line x1="494.25" y1="661.00" x2="494.25" y2="666.00" stroke="#000" stroke-width="1.5"/>
<text x="494.25" y="685.30" font-family="Liberation Sans, sans-serif" font-size="17.5" font-weight="bold" text-anchor="middle">L</text>
<line x1="547.25" y1="560.50" x2="547.25" y2="550.17" stroke="#000" stroke-width="1.5"/>
<line x1="538.40" y1="550.17" x2="556.10" y2="550.17" stroke="#000" stroke-width="1.5"/>
<clipPath id="cp16"><rect x="529.55" y="560.50" width="35.4" height="100.50"/></clipPath>
<rect x="529.55" y="560.50" width="35.4" height="100.50" fill="#808080"/>
<path clip-path="url(#cp16)" d="M527.55,554.20L566.95,514.80M527.55,561.90L566.95,522.50M527.55,569.60L566.95,530.20M527.55,577.30L566.95,537.90M527.55,585.00L566.95,545.60M527.55,592.70L566.95,553.30M527.55,600.40L566.95,561.00M527.55,608.10L566.95,568.70M527.55,615.80L566.95,576.40M527.55,623.50L566.95,584.10M527.55,631.20L566.95,591.80M527.55,638.90L566.95,599.50M527.55,646.60L566.95,607.20M527.55,654.30L566.95,614.90M527.55,662.00L566.95,622.60M527.55,669.70L566.95,630.30M527.55,677.40L566.95,638.00M527.55,685.10L566.95,645.70M527.55,692.80L566.95,653.40M527.55,700.50L566.95,661.10M527.55,708.20L566.95,668.80" stroke="#000" stroke-width="1.65" fill="none"/>
<rect x="529.55" y="560.50" width="35.4" height="100.50" fill="none" stroke="#000" stroke-width="1.5"/>
<line x1="547.25" y1="661.00" x2="547.25" y2="666.00" stroke="#000" stroke-width="1.5"/>
<text x="547.25" y="685.30" font-family="Liberation Sans, sans-serif" font-size="17.5" font-weight="bold" text-anchor="middle">E+L</text>
<line x1="362.10" y1="519.10" x2="362.10" y2="661.00" stroke="#000" stroke-width="1.8"/>
<line x1="353.60" y1="661.00" x2="574.40" y2="661.00" stroke="#000" stroke-width="1.8"/>
<line x1="353.60" y1="661.00" x2="362.10" y2="661.00" stroke="#000" stroke-width="1.8"/>
<text x="350.40" y="666.40" font-family="Liberation Sans, sans-serif" font-size="17.6" font-weight="bold" text-anchor="end">0.0</text>
<line x1="353.60" y1="632.80" x2="362.10" y2="632.80" stroke="#000" stroke-width="1.8"/>
<text x="350.40" y="638.20" font-family="Liberation Sans, sans-serif" font-size="17.6" font-weight="bold" text-anchor="end">0.5</text>
<line x1="353.60" y1="604.60" x2="362.10" y2="604.60" stroke="#000" stroke-width="1.8"/>
<text x="350.40" y="610.00" font-family="Liberation Sans, sans-serif" font-size="17.6" font-weight="bold" text-anchor="end">1.0</text>
<line x1="353.60" y1="576.40" x2="362.10" y2="576.40" stroke="#000" stroke-width="1.8"/>
<text x="350.40" y="581.80" font-family="Liberation Sans, sans-serif" font-size="17.6" font-weight="bold" text-anchor="end">1.5</text>
<line x1="353.60" y1="548.20" x2="362.10" y2="548.20" stroke="#000" stroke-width="1.8"/>
<text x="350.40" y="553.60" font-family="Liberation Sans, sans-serif" font-size="17.6" font-weight="bold" text-anchor="end">2.0</text>
<line x1="353.60" y1="520.00" x2="362.10" y2="520.00" stroke="#000" stroke-width="1.8"/>
<text x="350.40" y="525.40" font-family="Liberation Sans, sans-serif" font-size="17.6" font-weight="bold" text-anchor="end">2.5</text>
<text transform="translate(320.70,648.49) rotate(-90)" font-family="Liberation Sans, sans-serif" font-size="17.8" font-weight="bold" textLength="111.82" lengthAdjust="spacingAndGlyphs">p-4EBP1 (S65)</text>
<text x="547.10" y="543.80" font-family="Liberation Sans, sans-serif" font-size="17" font-weight="bold" text-anchor="middle">*</text>
<text x="642.30" y="499.10" font-family="Liberation Sans, sans-serif" font-size="25" fill="#1c1c1c">j</text>
<line x1="681.65" y1="576.40" x2="681.65" y2="571.70" stroke="#000" stroke-width="1.5"/>
<line x1="672.80" y1="571.70" x2="690.50" y2="571.70" stroke="#000" stroke-width="1.5"/>
<rect x="663.95" y="576.40" width="35.4" height="84.60" fill="#ffffff" stroke="#000" stroke-width="1.5"/>
<line x1="681.65" y1="661.00" x2="681.65" y2="666.00" stroke="#000" stroke-width="1.5"/>
<text x="681.65" y="685.30" font-family="Liberation Sans, sans-serif" font-size="17.5" font-weight="bold" text-anchor="middle">C</text>
<line x1="734.65" y1="564.18" x2="734.65" y2="551.96" stroke="#000" stroke-width="1.5"/>
<line x1="725.80" y1="551.96" x2="743.50" y2="551.96" stroke="#000" stroke-width="1.5"/>
<rect x="716.95" y="564.18" width="35.4" height="96.82" fill="#808080" stroke="#000" stroke-width="1.5"/>
<line x1="734.65" y1="661.00" x2="734.65" y2="666.00" stroke="#000" stroke-width="1.5"/>
<text x="734.65" y="685.30" font-family="Liberation Sans, sans-serif" font-size="17.5" font-weight="bold" text-anchor="middle">E</text>
<line x1="787.65" y1="558.54" x2="787.65" y2="551.96" stroke="#000" stroke-width="1.5"/>
<line x1="778.80" y1="551.96" x2="796.50" y2="551.96" stroke="#000" stroke-width="1.5"/>
<clipPath id="cp17"><rect x="769.95" y="558.54" width="35.4" height="102.46"/></clipPath>
<rect x="769.95" y="558.54" width="35.4" height="102.46" fill="#fff"/>
<path clip-path="url(#cp17)" d="M767.95,545.45L807.35,506.05M767.95,553.15L807.35,513.75M767.95,560.85L807.35,521.45M767.95,568.55L807.35,529.15M767.95,576.25L807.35,536.85M767.95,583.95L807.35,544.55M767.95,591.65L807.35,552.25M767.95,599.35L807.35,559.95M767.95,607.05L807.35,567.65M767.95,614.75L807.35,575.35M767.95,622.45L807.35,583.05M767.95,630.15L807.35,590.75M767.95,637.85L807.35,598.45M767.95,645.55L807.35,606.15M767.95,653.25L807.35,613.85M767.95,660.95L807.35,621.55M767.95,668.65L807.35,629.25M767.95,676.35L807.35,636.95M767.95,684.05L807.35,644.65M767.95,691.75L807.35,652.35M767.95,699.45L807.35,660.05M767.95,707.15L807.35,667.75" stroke="#000" stroke-width="1.65" fill="none"/>
<rect x="769.95" y="558.54" width="35.4" height="102.46" fill="none" stroke="#000" stroke-width="1.5"/>
<line x1="787.65" y1="661.00" x2="787.65" y2="666.00" stroke="#000" stroke-width="1.5"/>
<text x="787.65" y="685.30" font-family="Liberation Sans, sans-serif" font-size="17.5" font-weight="bold" text-anchor="middle">L</text>
<line x1="840.65" y1="556.66" x2="840.65" y2="545.38" stroke="#000" stroke-width="1.5"/>
<line x1="831.80" y1="545.38" x2="849.50" y2="545.38" stroke="#000" stroke-width="1.5"/>
<clipPath id="cp18"><rect x="822.95" y="556.66" width="35.4" height="104.34"/></clipPath>
<rect x="822.95" y="556.66" width="35.4" height="104.34" fill="#808080"/>
<path clip-path="url(#cp18)" d="M820.95,550.95L860.35,511.55M820.95,558.65L860.35,519.25M820.95,566.35L860.35,526.95M820.95,574.05L860.35,534.65M820.95,581.75L860.35,542.35M820.95,589.45L860.35,550.05M820.95,597.15L860.35,557.75M820.95,604.85L860.35,565.45M820.95,612.55L860.35,573.15M820.95,620.25L860.35,580.85M820.95,627.95L860.35,588.55M820.95,635.65L860.35,596.25M820.95,643.35L860.35,603.95M820.95,651.05L860.35,611.65M820.95,658.75L860.35,619.35M820.95,666.45L860.35,627.05M820.95,674.15L860.35,634.75M820.95,681.85L860.35,642.45M820.95,689.55L860.35,650.15M820.95,697.25L860.35,657.85M820.95,704.95L860.35,665.55M820.95,712.65L860.35,673.25" stroke="#000" stroke-width="1.65" fill="none"/>
<rect x="822.95" y="556.66" width="35.4" height="104.34" fill="none" stroke="#000" stroke-width="1.5"/>
<line x1="840.65" y1="661.00" x2="840.65" y2="666.00" stroke="#000" stroke-width="1.5"/>
<text x="840.65" y="685.30" font-family="Liberation Sans, sans-serif" font-size="17.5" font-weight="bold" text-anchor="middle">E+L</text>
<line x1="655.50" y1="519.10" x2="655.50" y2="661.00" stroke="#000" stroke-width="1.8"/>
<line x1="647.00" y1="661.00" x2="867.80" y2="661.00" stroke="#000" stroke-width="1.8"/>
<line x1="647.00" y1="661.00" x2="655.50" y2="661.00" stroke="#000" stroke-width="1.8"/>
<text x="643.80" y="666.40" font-family="Liberation Sans, sans-serif" font-size="17.6" font-weight="bold" text-anchor="end">0.0</text>
<line x1="647.00" y1="614.00" x2="655.50" y2="614.00" stroke="#000" stroke-width="1.8"/>
<text x="643.80" y="619.40" font-family="Liberation Sans, sans-serif" font-size="17.6" font-weight="bold" text-anchor="end">0.5</text>
<line x1="647.00" y1="567.00" x2="655.50" y2="567.00" stroke="#000" stroke-width="1.8"/>
<text x="643.80" y="572.40" font-family="Liberation Sans, sans-serif" font-size="17.6" font-weight="bold" text-anchor="end">1.0</text>
<line x1="647.00" y1="520.00" x2="655.50" y2="520.00" stroke="#000" stroke-width="1.8"/>
<text x="643.80" y="525.40" font-family="Liberation Sans, sans-serif" font-size="17.6" font-weight="bold" text-anchor="end">1.5</text>
<text transform="translate(614.50,617.96) rotate(-90)" font-family="Liberation Sans, sans-serif" font-size="17.8" font-weight="bold" textLength="46.43" lengthAdjust="spacingAndGlyphs">4EBP1</text>
<text x="787.50" y="545.60" font-family="Liberation Sans, sans-serif" font-size="17" font-weight="bold" text-anchor="middle">*</text>
<text x="29.20" y="741.25" font-family="Liberation Sans, sans-serif" font-size="25" fill="#1c1c1c">k</text>
<line x1="87.35" y1="842.40" x2="87.35" y2="836.76" stroke="#000" stroke-width="1.5"/>
<line x1="78.50" y1="836.76" x2="96.20" y2="836.76" stroke="#000" stroke-width="1.5"/>
<rect x="69.65" y="842.40" width="35.4" height="70.50" fill="#ffffff" stroke="#000" stroke-width="1.5"/>
<line x1="87.35" y1="912.90" x2="87.35" y2="917.90" stroke="#000" stroke-width="1.5"/>
<text x="87.35" y="937.20" font-family="Liberation Sans, sans-serif" font-size="17.5" font-weight="bold" text-anchor="middle">C</text>
<line x1="140.35" y1="832.53" x2="140.35" y2="825.48" stroke="#000" stroke-width="1.5"/>
<line x1="131.50" y1="825.48" x2="149.20" y2="825.48" stroke="#000" stroke-width="1.5"/>
<rect x="122.65" y="832.53" width="35.4" height="80.37" fill="#808080" stroke="#000" stroke-width="1.5"/>
<line x1="140.35" y1="912.90" x2="140.35" y2="917.90" stroke="#000" stroke-width="1.5"/>
<text x="140.35" y="937.20" font-family="Liberation Sans, sans-serif" font-size="17.5" font-weight="bold" text-anchor="middle">E</text>
<line x1="193.35" y1="833.24" x2="193.35" y2="830.41" stroke="#000" stroke-width="1.5"/>
<line x1="184.50" y1="830.41" x2="202.20" y2="830.41" stroke="#000" stroke-width="1.5"/>
<clipPath id="cp19"><rect x="175.65" y="833.24" width="35.4" height="79.66"/></clipPath>
<rect x="175.65" y="833.24" width="35.4" height="79.66" fill="#fff"/>
<path clip-path="url(#cp19)" d="M173.65,827.35L213.05,787.95M173.65,835.05L213.05,795.65M173.65,842.75L213.05,803.35M173.65,850.45L213.05,811.05M173.65,858.15L213.05,818.75M173.65,865.85L213.05,826.45M173.65,873.55L213.05,834.15M173.65,881.25L213.05,841.85M173.65,888.95L213.05,849.55M173.65,896.65L213.05,857.25M173.65,904.35L213.05,864.95M173.65,912.05L213.05,872.65M173.65,919.75L213.05,880.35M173.65,927.45L213.05,888.05M173.65,935.15L213.05,895.75M173.65,942.85L213.05,903.45M173.65,950.55L213.05,911.15M173.65,958.25L213.05,918.85" stroke="#000" stroke-width="1.65" fill="none"/>
<rect x="175.65" y="833.24" width="35.4" height="79.66" fill="none" stroke="#000" stroke-width="1.5"/>
<line x1="193.35" y1="912.90" x2="193.35" y2="917.90" stroke="#000" stroke-width="1.5"/>
<text x="193.35" y="937.20" font-family="Liberation Sans, sans-serif" font-size="17.5" font-weight="bold" text-anchor="middle">L</text>
<line x1="246.35" y1="800.10" x2="246.35" y2="790.23" stroke="#000" stroke-width="1.5"/>
<line x1="237.50" y1="790.23" x2="255.20" y2="790.23" stroke="#000" stroke-width="1.5"/>
<clipPath id="cp20"><rect x="228.65" y="800.10" width="35.4" height="112.80"/></clipPath>
<rect x="228.65" y="800.10" width="35.4" height="112.80" fill="#808080"/>
<path clip-path="url(#cp20)" d="M226.65,786.95L266.05,747.55M226.65,794.65L266.05,755.25M226.65,802.35L266.05,762.95M226.65,810.05L266.05,770.65M226.65,817.75L266.05,778.35M226.65,825.45L266.05,786.05M226.65,833.15L266.05,793.75M226.65,840.85L266.05,801.45M226.65,848.55L266.05,809.15M226.65,856.25L266.05,816.85M226.65,863.95L266.05,824.55M226.65,871.65L266.05,832.25M226.65,879.35L266.05,839.95M226.65,887.05L266.05,847.65M226.65,894.75L266.05,855.35M226.65,902.45L266.05,863.05M226.65,910.15L266.05,870.75M226.65,917.85L266.05,878.45M226.65,925.55L266.05,886.15M226.65,933.25L266.05,893.85M226.65,940.95L266.05,901.55M226.65,948.65L266.05,909.25M226.65,956.35L266.05,916.95M226.65,964.05L266.05,924.65" stroke="#000" stroke-width="1.65" fill="none"/>
<rect x="228.65" y="800.10" width="35.4" height="112.80" fill="none" stroke="#000" stroke-width="1.5"/>
<line x1="246.35" y1="912.90" x2="246.35" y2="917.90" stroke="#000" stroke-width="1.5"/>
<text x="246.35" y="937.20" font-family="Liberation Sans, sans-serif" font-size="17.5" font-weight="bold" text-anchor="middle">E+L</text>
<line x1="61.20" y1="771.00" x2="61.20" y2="912.90" stroke="#000" stroke-width="1.8"/>
<line x1="52.70" y1="912.90" x2="273.50" y2="912.90" stroke="#000" stroke-width="1.8"/>
<line x1="52.70" y1="912.90" x2="61.20" y2="912.90" stroke="#000" stroke-width="1.8"/>
<text x="49.50" y="918.30" font-family="Liberation Sans, sans-serif" font-size="17.6" font-weight="bold" text-anchor="end">0.0</text>
<line x1="52.70" y1="877.65" x2="61.20" y2="877.65" stroke="#000" stroke-width="1.8"/>
<text x="49.50" y="883.05" font-family="Liberation Sans, sans-serif" font-size="17.6" font-weight="bold" text-anchor="end">0.5</text>
<line x1="52.70" y1="842.40" x2="61.20" y2="842.40" stroke="#000" stroke-width="1.8"/>
<text x="49.50" y="847.80" font-family="Liberation Sans, sans-serif" font-size="17.6" font-weight="bold" text-anchor="end">1.0</text>
<line x1="52.70" y1="807.15" x2="61.20" y2="807.15" stroke="#000" stroke-width="1.8"/>
<text x="49.50" y="812.55" font-family="Liberation Sans, sans-serif" font-size="17.6" font-weight="bold" text-anchor="end">1.5</text>
<line x1="52.70" y1="771.90" x2="61.20" y2="771.90" stroke="#000" stroke-width="1.8"/>
<text x="49.50" y="777.30" font-family="Liberation Sans, sans-serif" font-size="17.6" font-weight="bold" text-anchor="end">2.0</text>
<text transform="translate(20.10,970.71) rotate(-90)" font-family="Liberation Sans, sans-serif" font-size="17.8" font-weight="bold" textLength="249.78" lengthAdjust="spacingAndGlyphs">p-4EBP1(Thr37/46) / total 4EBP1</text>
<line x1="192.3" y1="754" x2="246.3" y2="754" stroke="#000" stroke-width="1.8"/>
<text x="222.20" y="756.00" font-family="Liberation Sans, sans-serif" font-size="17" font-weight="bold" text-anchor="middle">*</text>
<text x="246.20" y="786.00" font-family="Liberation Sans, sans-serif" font-size="17" font-weight="bold" text-anchor="middle">*</text>
<text x="332.55" y="740.55" font-family="Liberation Sans, sans-serif" font-size="25" fill="#1c1c1c">l</text>
<line x1="388.25" y1="842.00" x2="388.25" y2="837.77" stroke="#000" stroke-width="1.5"/>
<line x1="379.40" y1="837.77" x2="397.10" y2="837.77" stroke="#000" stroke-width="1.5"/>
<rect x="370.55" y="842.00" width="35.4" height="70.50" fill="#ffffff" stroke="#000" stroke-width="1.5"/>
<line x1="388.25" y1="912.50" x2="388.25" y2="917.50" stroke="#000" stroke-width="1.5"/>
<text x="388.25" y="936.80" font-family="Liberation Sans, sans-serif" font-size="17.5" font-weight="bold" text-anchor="middle">C</text>
<line x1="441.25" y1="826.49" x2="441.25" y2="813.10" stroke="#000" stroke-width="1.5"/>
<line x1="432.40" y1="813.10" x2="450.10" y2="813.10" stroke="#000" stroke-width="1.5"/>
<rect x="423.55" y="826.49" width="35.4" height="86.01" fill="#808080" stroke="#000" stroke-width="1.5"/>
<line x1="441.25" y1="912.50" x2="441.25" y2="917.50" stroke="#000" stroke-width="1.5"/>
<text x="441.25" y="936.80" font-family="Liberation Sans, sans-serif" font-size="17.5" font-weight="bold" text-anchor="middle">E</text>
<line x1="494.25" y1="813.10" x2="494.25" y2="800.40" stroke="#000" stroke-width="1.5"/>
<line x1="485.40" y1="800.40" x2="503.10" y2="800.40" stroke="#000" stroke-width="1.5"/>
<clipPath id="cp21"><rect x="476.55" y="813.10" width="35.4" height="99.40"/></clipPath>
<rect x="476.55" y="813.10" width="35.4" height="99.40" fill="#fff"/>
<path clip-path="url(#cp21)" d="M474.55,807.15L513.95,767.75M474.55,814.85L513.95,775.45M474.55,822.55L513.95,783.15M474.55,830.25L513.95,790.85M474.55,837.95L513.95,798.55M474.55,845.65L513.95,806.25M474.55,853.35L513.95,813.95M474.55,861.05L513.95,821.65M474.55,868.75L513.95,829.35M474.55,876.45L513.95,837.05M474.55,884.15L513.95,844.75M474.55,891.85L513.95,852.45M474.55,899.55L513.95,860.15M474.55,907.25L513.95,867.85M474.55,914.95L513.95,875.55M474.55,922.65L513.95,883.25M474.55,930.35L513.95,890.95M474.55,938.05L513.95,898.65M474.55,945.75L513.95,906.35M474.55,953.45L513.95,914.05M474.55,961.15L513.95,921.75" stroke="#000" stroke-width="1.65" fill="none"/>
<rect x="476.55" y="813.10" width="35.4" height="99.40" fill="none" stroke="#000" stroke-width="1.5"/>
<line x1="494.25" y1="912.50" x2="494.25" y2="917.50" stroke="#000" stroke-width="1.5"/>
<text x="494.25" y="936.80" font-family="Liberation Sans, sans-serif" font-size="17.5" font-weight="bold" text-anchor="middle">L</text>
<line x1="547.25" y1="787.01" x2="547.25" y2="779.25" stroke="#000" stroke-width="1.5"/>
<line x1="538.40" y1="779.25" x2="556.10" y2="779.25" stroke="#000" stroke-width="1.5"/>
<clipPath id="cp22"><rect x="529.55" y="787.01" width="35.4" height="125.49"/></clipPath>
<rect x="529.55" y="787.01" width="35.4" height="125.49" fill="#808080"/>
<path clip-path="url(#cp22)" d="M527.55,780.95L566.95,741.55M527.55,788.65L566.95,749.25M527.55,796.35L566.95,756.95M527.55,804.05L566.95,764.65M527.55,811.75L566.95,772.35M527.55,819.45L566.95,780.05M527.55,827.15L566.95,787.75M527.55,834.85L566.95,795.45M527.55,842.55L566.95,803.15M527.55,850.25L566.95,810.85M527.55,857.95L566.95,818.55M527.55,865.65L566.95,826.25M527.55,873.35L566.95,833.95M527.55,881.05L566.95,841.65M527.55,888.75L566.95,849.35M527.55,896.45L566.95,857.05M527.55,904.15L566.95,864.75M527.55,911.85L566.95,872.45M527.55,919.55L566.95,880.15M527.55,927.25L566.95,887.85M527.55,934.95L566.95,895.55M527.55,942.65L566.95,903.25M527.55,950.35L566.95,910.95M527.55,958.05L566.95,918.65" stroke="#000" stroke-width="1.65" fill="none"/>
<rect x="529.55" y="787.01" width="35.4" height="125.49" fill="none" stroke="#000" stroke-width="1.5"/>
<line x1="547.25" y1="912.50" x2="547.25" y2="917.50" stroke="#000" stroke-width="1.5"/>
<text x="547.25" y="936.80" font-family="Liberation Sans, sans-serif" font-size="17.5" font-weight="bold" text-anchor="middle">E+L</text>
<line x1="362.10" y1="770.60" x2="362.10" y2="912.50" stroke="#000" stroke-width="1.8"/>
<line x1="353.60" y1="912.50" x2="574.40" y2="912.50" stroke="#000" stroke-width="1.8"/>
<line x1="353.60" y1="912.50" x2="362.10" y2="912.50" stroke="#000" stroke-width="1.8"/>
<text x="350.40" y="917.90" font-family="Liberation Sans, sans-serif" font-size="17.6" font-weight="bold" text-anchor="end">0.0</text>
<line x1="353.60" y1="877.25" x2="362.10" y2="877.25" stroke="#000" stroke-width="1.8"/>
<text x="350.40" y="882.65" font-family="Liberation Sans, sans-serif" font-size="17.6" font-weight="bold" text-anchor="end">0.5</text>
<line x1="353.60" y1="842.00" x2="362.10" y2="842.00" stroke="#000" stroke-width="1.8"/>
<text x="350.40" y="847.40" font-family="Liberation Sans, sans-serif" font-size="17.6" font-weight="bold" text-anchor="end">1.0</text>
<line x1="353.60" y1="806.75" x2="362.10" y2="806.75" stroke="#000" stroke-width="1.8"/>
<text x="350.40" y="812.15" font-family="Liberation Sans, sans-serif" font-size="17.6" font-weight="bold" text-anchor="end">1.5</text>
<line x1="353.60" y1="771.50" x2="362.10" y2="771.50" stroke="#000" stroke-width="1.8"/>
<text x="350.40" y="776.90" font-family="Liberation Sans, sans-serif" font-size="17.6" font-weight="bold" text-anchor="end">2.0</text>
<text transform="translate(320.70,921.61) rotate(-90)" font-family="Liberation Sans, sans-serif" font-size="17.8" font-weight="bold" textLength="153.27" lengthAdjust="spacingAndGlyphs">p-4EBP1 (Thr37/46)</text>
<text x="494.20" y="793.90" font-family="Liberation Sans, sans-serif" font-size="17" font-weight="bold" text-anchor="middle">*</text>
<text x="547.20" y="772.90" font-family="Liberation Sans, sans-serif" font-size="17" font-weight="bold" text-anchor="middle">*</text>
<text x="911.45" y="25.15" font-family="Liberation Sans, sans-serif" font-size="25" fill="#1c1c1c">d</text>
<text x="1043.7" y="32.4" font-family="Liberation Sans, sans-serif" font-size="17" font-weight="bold" text-anchor="middle">C</text>
<text x="1073.1" y="32.4" font-family="Liberation Sans, sans-serif" font-size="17" font-weight="bold" text-anchor="middle">E</text>
<text x="1102.35" y="32.4" font-family="Liberation Sans, sans-serif" font-size="17" font-weight="bold" text-anchor="middle">L</text>
<text x="1135.65" y="32.4" font-family="Liberation Sans, sans-serif" font-size="17" font-weight="bold" text-anchor="middle">E+L</text>
<rect x="1031.3" y="38" width="117.0" height="41" fill="#f2f2f2"/>
<rect x="1031.3" y="79" width="117.0" height="40.599999999999994" fill="#fafafa"/>
<rect x="1031.3" y="119.6" width="117.0" height="41.70000000000002" fill="#ffffff"/>
<rect x="1031.3" y="161.3" width="117.0" height="40.0" fill="#eaeaea"/>
<rect x="1031.3" y="201.3" width="117.0" height="40.0" fill="url(#g5)"/>
<rect x="1031.3" y="241.3" width="117.0" height="39.89999999999998" fill="#ffffff"/>
<rect x="1031.3" y="281.2" width="117.0" height="47.69999999999999" fill="#fafafa"/>
<filter id="bf1" x="-50%" y="-150%" width="200%" height="400%"><feGaussianBlur stdDeviation="3.5 3.5"/></filter><rect x="1124" y="40.0" width="17" height="36" rx="8.5" fill="#e4e4e4" filter="url(#bf1)"/>
<filter id="bf2" x="-50%" y="-150%" width="200%" height="400%"><feGaussianBlur stdDeviation="2 2"/></filter><rect x="1037" y="45.5" width="18" height="4" rx="2.0" fill="#eaeaea" filter="url(#bf2)"/>
<filter id="bf3" x="-50%" y="-150%" width="200%" height="400%"><feGaussianBlur stdDeviation="2 2"/></filter><rect x="1066" y="45.5" width="18" height="4" rx="2.0" fill="#eaeaea" filter="url(#bf3)"/>
<filter id="bf4" x="-50%" y="-150%" width="200%" height="400%"><feGaussianBlur stdDeviation="2 2"/></filter><rect x="1095" y="45.5" width="17" height="4" rx="2.0" fill="#eaeaea" filter="url(#bf4)"/>
<filter id="bf5" x="-50%" y="-150%" width="200%" height="400%"><feGaussianBlur stdDeviation="2 2"/></filter><rect x="1036.5" y="56.3" width="9.5" height="7" rx="3.5" fill="#cacaca" filter="url(#bf5)"/>
<filter id="bf6" x="-50%" y="-150%" width="200%" height="400%"><feGaussianBlur stdDeviation="2 2"/></filter><rect x="1045.5" y="56.3" width="10.0" height="7" rx="3.5" fill="#cdcdcd" filter="url(#bf6)"/>
<filter id="bf7" x="-50%" y="-150%" width="200%" height="400%"><feGaussianBlur stdDeviation="2 2"/></filter><rect x="1065.5" y="56.0" width="9.5" height="7" rx="3.5" fill="#c8c8c8" filter="url(#bf7)"/>
<filter id="bf8" x="-50%" y="-150%" width="200%" height="400%"><feGaussianBlur stdDeviation="2 2"/></filter><rect x="1075" y="56.0" width="9.5" height="7" rx="3.5" fill="#cbcbcb" filter="url(#bf8)"/>
<filter id="bf9" x="-50%" y="-150%" width="200%" height="400%"><feGaussianBlur stdDeviation="2 2"/></filter><rect x="1095" y="56.0" width="9" height="7" rx="3.5" fill="#c0c0c0" filter="url(#bf9)"/>
<filter id="bf10" x="-50%" y="-150%" width="200%" height="400%"><feGaussianBlur stdDeviation="2 2"/></filter><rect x="1104" y="56.0" width="9.5" height="7" rx="3.5" fill="#c5c5c5" filter="url(#bf10)"/>
<filter id="bf11" x="-50%" y="-150%" width="200%" height="400%"><feGaussianBlur stdDeviation="3 3"/></filter><rect x="1121" y="51.1" width="23" height="15" rx="7.5" fill="#999" filter="url(#bf11)"/>
<filter id="bf12" x="-50%" y="-150%" width="200%" height="400%"><feGaussianBlur stdDeviation="1.0 1.0"/></filter><g filter="url(#bf12)" fill="#000"><rect x="1122.3" y="52.300000000000004" width="20.700000000000045" height="11.088" rx="5.292"/><ellipse cx="1126.854" cy="59.230000000000004" rx="4.55400000000001" ry="5.67"/><ellipse cx="1138.446" cy="58.852000000000004" rx="4.55400000000001" ry="5.67"/></g>
<filter id="bf13" x="-50%" y="-150%" width="200%" height="400%"><feGaussianBlur stdDeviation="1.8 1.8"/></filter><rect x="1038.5" y="98.05" width="19.5" height="5.5" rx="2.75" fill="#727272" filter="url(#bf13)"/>
<filter id="bf14" x="-50%" y="-150%" width="200%" height="400%"><feGaussianBlur stdDeviation="1.8 1.8"/></filter><rect x="1065.5" y="100.2" width="19.0" height="5.2" rx="2.6" fill="#5e5e5e" filter="url(#bf14)"/>
<filter id="bf15" x="-50%" y="-150%" width="200%" height="400%"><feGaussianBlur stdDeviation="1.8 1.8"/></filter><rect x="1092" y="100.1" width="20.799999999999955" height="5.4" rx="2.7" fill="#505050" filter="url(#bf15)"/>
<filter id="bf16" x="-50%" y="-150%" width="200%" height="400%"><feGaussianBlur stdDeviation="1.8 1.8"/></filter><rect x="1121" y="99.8" width="20.200000000000045" height="5.0" rx="2.5" fill="#666666" filter="url(#bf16)"/>
<filter id="bf17" x="-50%" y="-150%" width="200%" height="400%"><feGaussianBlur stdDeviation="2.1 2.1"/></filter><rect x="1037" y="141.25" width="19.5" height="4.5" rx="2.25" fill="#d4d4d4" filter="url(#bf17)"/>
<filter id="bf18" x="-50%" y="-150%" width="200%" height="400%"><feGaussianBlur stdDeviation="2.1 2.1"/></filter><rect x="1066.5" y="141.5" width="19.0" height="4" rx="2.0" fill="#dcdcdc" filter="url(#bf18)"/>
<filter id="bf19" x="-50%" y="-150%" width="200%" height="400%"><feGaussianBlur stdDeviation="2.1 2.1"/></filter><rect x="1095" y="140.75" width="19" height="4.5" rx="2.25" fill="#cecece" filter="url(#bf19)"/>
<filter id="bf20" x="-50%" y="-150%" width="200%" height="400%"><feGaussianBlur stdDeviation="1.5 1.5"/></filter><g filter="url(#bf20)" fill="#505050"><ellipse cx="1128.17" cy="141.2" rx="5.67" ry="3.1"/><ellipse cx="1137.83" cy="140.89999999999998" rx="5.67" ry="2.945"/><rect x="1125.335" y="138.1" width="15.33" height="4.34" rx="1.55"/></g>
<filter id="bf21" x="-50%" y="-150%" width="200%" height="400%"><feGaussianBlur stdDeviation="1.1 1.1"/></filter><g filter="url(#bf21)" fill="#000"><rect x="1034.9" y="179.70000000000002" width="23.899999999999864" height="8.32" rx="4.368"/><ellipse cx="1040.1580000000001" cy="185.42000000000002" rx="5.25799999999997" ry="4.680000000000001"/><ellipse cx="1053.542" cy="185.108" rx="5.25799999999997" ry="4.680000000000001"/></g>
<filter id="bf22" x="-50%" y="-150%" width="200%" height="400%"><feGaussianBlur stdDeviation="1.1 1.1"/></filter><g filter="url(#bf22)" fill="#000"><rect x="1062.9" y="179.5" width="23.399999999999864" height="7.708" rx="3.948"/><ellipse cx="1068.048" cy="184.67" rx="5.14799999999997" ry="4.23"/><ellipse cx="1081.152" cy="184.38799999999998" rx="5.14799999999997" ry="4.23"/></g>
<filter id="bf23" x="-50%" y="-150%" width="200%" height="400%"><feGaussianBlur stdDeviation="1.1 1.1"/></filter><g filter="url(#bf23)" fill="#000"><rect x="1091.9" y="180.2" width="22.299999999999955" height="7.216" rx="3.696"/><ellipse cx="1096.806" cy="185.04" rx="4.90599999999999" ry="3.9600000000000004"/><ellipse cx="1109.294" cy="184.77599999999998" rx="4.90599999999999" ry="3.9600000000000004"/></g>
<filter id="bf24" x="-50%" y="-150%" width="200%" height="400%"><feGaussianBlur stdDeviation="1.1 1.1"/></filter><g filter="url(#bf24)" fill="#000"><rect x="1118.9" y="177.4" width="25.299999999999955" height="8.0" rx="4.2"/><ellipse cx="1124.4660000000001" cy="182.9" rx="5.56599999999999" ry="4.5"/><ellipse cx="1138.634" cy="182.6" rx="5.56599999999999" ry="4.5"/></g>
<filter id="bf25" x="-50%" y="-150%" width="200%" height="400%"><feGaussianBlur stdDeviation="1.9 1.9"/></filter><rect x="1037" y="219.75" width="19" height="5.5" rx="2.75" fill="#6a6a6a" filter="url(#bf25)"/>
<filter id="bf26" x="-50%" y="-150%" width="200%" height="400%"><feGaussianBlur stdDeviation="1.9 1.9"/></filter><rect x="1064" y="220.3" width="18.5" height="5" rx="2.5" fill="#6e6e6e" filter="url(#bf26)"/>
<filter id="bf27" x="-50%" y="-150%" width="200%" height="400%"><feGaussianBlur stdDeviation="1.5 1.5"/></filter><rect x="1076" y="220.8" width="6.5" height="4" rx="2.0" fill="#585858" filter="url(#bf27)"/>
<filter id="bf28" x="-50%" y="-150%" width="200%" height="400%"><feGaussianBlur stdDeviation="1.9 1.9"/></filter><rect x="1092.5" y="220.55" width="22.0" height="5.5" rx="2.75" fill="#4c4c4c" filter="url(#bf28)"/>
<filter id="bf29" x="-50%" y="-150%" width="200%" height="400%"><feGaussianBlur stdDeviation="2.8 2.8"/></filter><rect x="1119.5" y="217.5" width="24.5" height="10" rx="5.0" fill="#888" filter="url(#bf29)"/>
<filter id="bf30" x="-50%" y="-150%" width="200%" height="400%"><feGaussianBlur stdDeviation="1.3 1.3"/></filter><rect x="1121" y="219.0" width="21.5" height="7" rx="3.5" fill="#000" filter="url(#bf30)"/>
<filter id="bf31" x="-50%" y="-150%" width="200%" height="400%"><feGaussianBlur stdDeviation="2.6 2.6"/></filter><rect x="1037.5" y="254.3" width="21.0" height="8" rx="4.0" fill="#505050" filter="url(#bf31)"/>
<filter id="bf32" x="-50%" y="-150%" width="200%" height="400%"><feGaussianBlur stdDeviation="2.6 2.6"/></filter><rect x="1063.5" y="257.45" width="21.5" height="7.5" rx="3.75" fill="#585858" filter="url(#bf32)"/>
<filter id="bf33" x="-50%" y="-150%" width="200%" height="400%"><feGaussianBlur stdDeviation="2.6 2.6"/></filter><rect x="1090" y="257.05" width="23.5" height="8.5" rx="4.25" fill="#404040" filter="url(#bf33)"/>
<filter id="bf34" x="-50%" y="-150%" width="200%" height="400%"><feGaussianBlur stdDeviation="3.2 3.2"/></filter><rect x="1118.5" y="256.2" width="23.5" height="12" rx="6.0" fill="#999" filter="url(#bf34)"/>
<filter id="bf35" x="-50%" y="-150%" width="200%" height="400%"><feGaussianBlur stdDeviation="2.3 2.3"/></filter><rect x="1119.5" y="257.7" width="21.5" height="9" rx="4.5" fill="#000" filter="url(#bf35)"/>
<filter id="bf36" x="-50%" y="-150%" width="200%" height="400%"><feGaussianBlur stdDeviation="2.8 2.8"/></filter><rect x="1038.5" y="297.5" width="20.0" height="14" rx="7.0" fill="#8a8a8a" filter="url(#bf36)"/>
<filter id="bf37" x="-50%" y="-150%" width="200%" height="400%"><feGaussianBlur stdDeviation="2.4 2.4"/></filter><rect x="1039.5" y="297.0" width="18.0" height="5" rx="2.5" fill="#5a5a5a" filter="url(#bf37)"/>
<filter id="bf38" x="-50%" y="-150%" width="200%" height="400%"><feGaussianBlur stdDeviation="2.4 2.4"/></filter><rect x="1039.5" y="304.5" width="18.0" height="5" rx="2.5" fill="#666" filter="url(#bf38)"/>
<filter id="bf39" x="-50%" y="-150%" width="200%" height="400%"><feGaussianBlur stdDeviation="2.8 2.8"/></filter><rect x="1065" y="298.5" width="20" height="5" rx="2.5" fill="#a8a8a8" filter="url(#bf39)"/>
<filter id="bf40" x="-50%" y="-150%" width="200%" height="400%"><feGaussianBlur stdDeviation="2.8 2.8"/></filter><rect x="1065" y="304.55" width="20" height="7.5" rx="3.75" fill="#3e3e3e" filter="url(#bf40)"/>
<filter id="bf41" x="-50%" y="-150%" width="200%" height="400%"><feGaussianBlur stdDeviation="2.8 2.8"/></filter><rect x="1091.5" y="297.75" width="21.5" height="5.5" rx="2.75" fill="#6a6a6a" filter="url(#bf41)"/>
<filter id="bf42" x="-50%" y="-150%" width="200%" height="400%"><feGaussianBlur stdDeviation="2.8 2.8"/></filter><rect x="1091.5" y="304.25" width="21.5" height="7.5" rx="3.75" fill="#333" filter="url(#bf42)"/>
<filter id="bf43" x="-50%" y="-150%" width="200%" height="400%"><feGaussianBlur stdDeviation="2.8 2.8"/></filter><rect x="1119.5" y="298.3" width="22.0" height="5" rx="2.5" fill="#8a8a8a" filter="url(#bf43)"/>
<filter id="bf44" x="-50%" y="-150%" width="200%" height="400%"><feGaussianBlur stdDeviation="2.8 2.8"/></filter><rect x="1119.5" y="304.5" width="22.0" height="7" rx="3.5" fill="#262626" filter="url(#bf44)"/>
<line x1="1031.3" y1="79" x2="1148.3" y2="79" stroke="#111" stroke-width="1.5"/>
<line x1="1031.3" y1="119.6" x2="1148.3" y2="119.6" stroke="#111" stroke-width="1.5"/>
<line x1="1031.3" y1="161.3" x2="1148.3" y2="161.3" stroke="#111" stroke-width="1.5"/>
<line x1="1031.3" y1="201.3" x2="1148.3" y2="201.3" stroke="#111" stroke-width="1.5"/>
<line x1="1031.3" y1="241.3" x2="1148.3" y2="241.3" stroke="#111" stroke-width="1.5"/>
<line x1="1031.3" y1="281.2" x2="1148.3" y2="281.2" stroke="#111" stroke-width="1.5"/>
<rect x="1031.3" y="38" width="117.0" height="290.9" fill="none" stroke="#111" stroke-width="1.5"/>
<text x="1024" y="66" font-family="Liberation Sans, sans-serif" font-size="15" font-weight="bold" text-anchor="end">p-p70S6 (Thr389)</text>
<text x="1151" y="63.8" font-family="Liberation Sans, sans-serif" font-size="14" font-weight="bold">70 kDa</text>
<text x="1024" y="105" font-family="Liberation Sans, sans-serif" font-size="15" font-weight="bold" text-anchor="end">p70S6</text>
<text x="1151" y="103.6" font-family="Liberation Sans, sans-serif" font-size="14" font-weight="bold">70 kDa</text>
<text x="1024" y="147.6" font-family="Liberation Sans, sans-serif" font-size="15" font-weight="bold" text-anchor="end">p-S6 (S235/236)</text>
<text x="1151" y="146.1" font-family="Liberation Sans, sans-serif" font-size="14" font-weight="bold">32 kDa</text>
<text x="1024" y="189.3" font-family="Liberation Sans, sans-serif" font-size="15" font-weight="bold" text-anchor="end">S6</text>
<text x="1151" y="185.3" font-family="Liberation Sans, sans-serif" font-size="14" font-weight="bold">32 kDa</text>
<text x="1024" y="228.75" font-family="Liberation Sans, sans-serif" font-size="15" font-weight="bold" text-anchor="end">p-4EBP1 (S65)</text>
<text x="1151" y="225.2" font-family="Liberation Sans, sans-serif" font-size="14" font-weight="bold">20 kDa</text>
<text x="1024" y="265" font-family="Liberation Sans, sans-serif" font-size="15" font-weight="bold" text-anchor="end">p-4EBP1 (Thr37/46)</text>
<text x="1151" y="265.3" font-family="Liberation Sans, sans-serif" font-size="14" font-weight="bold">18 kDa</text>
<text x="1024" y="310" font-family="Liberation Sans, sans-serif" font-size="15" font-weight="bold" text-anchor="end">4EBP1</text>
<text x="1151" y="310.2" font-family="Liberation Sans, sans-serif" font-size="14" font-weight="bold">20 kDa</text>
</svg>
</body></html>
